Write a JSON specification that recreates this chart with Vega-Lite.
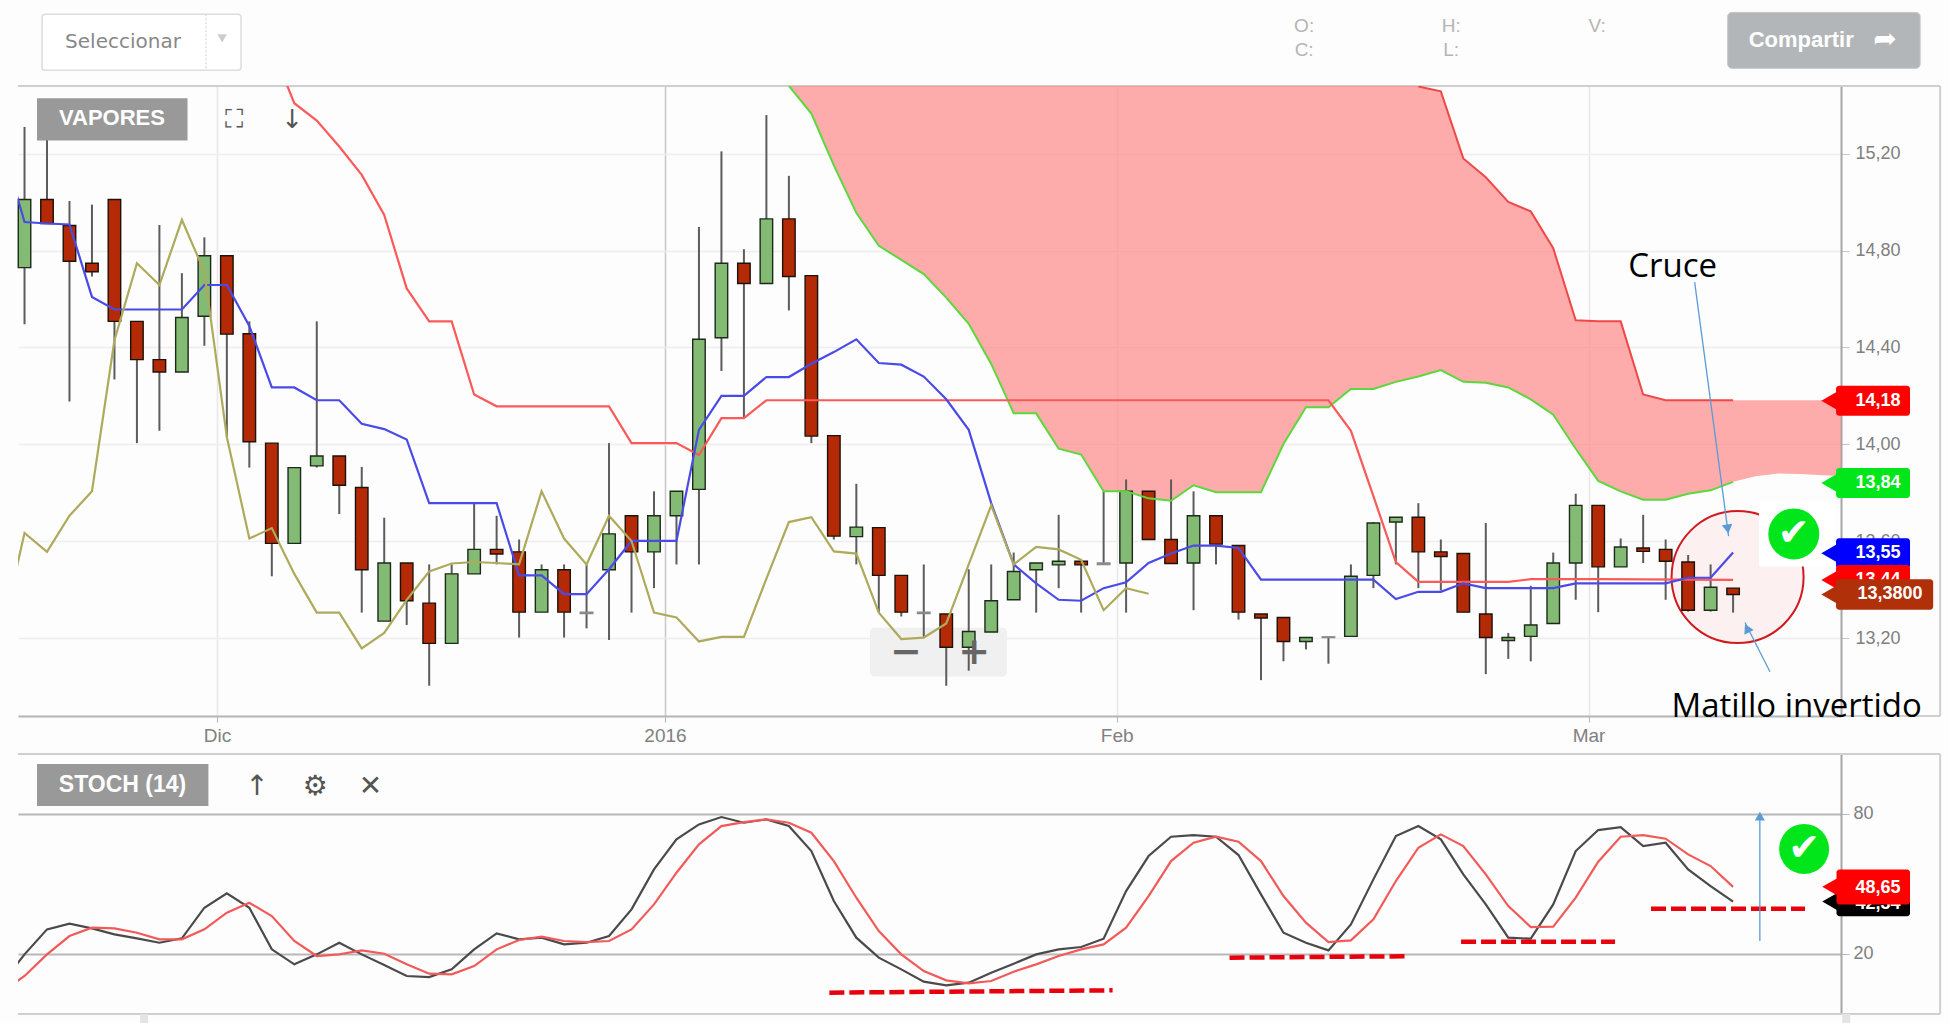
{
"$schema":"https://vega.github.io/schema/vega-lite/v6.json",
"padding":0,
"autosize":{"type":"pad"},
"background":"#fdfdfd",
"bounds":"flush",
"spacing":38,
"config":{"view":{"stroke":null},"font":"Liberation Sans"},
"datasets":{
"candles":[
{"i":0,"open":14.730,"high":15.311,"low":14.496,"close":15.011,"dir":"up"},
{"i":1,"open":15.011,"high":15.346,"low":14.912,"close":14.912,"dir":"down"},
{"i":2,"open":14.904,"high":15.005,"low":14.177,"close":14.756,"dir":"down"},
{"i":3,"open":14.748,"high":14.990,"low":14.693,"close":14.713,"dir":"down"},
{"i":4,"open":15.011,"high":15.011,"low":14.268,"close":14.508,"dir":"down"},
{"i":5,"open":14.508,"high":14.508,"low":14.005,"close":14.350,"dir":"down"},
{"i":6,"open":14.350,"high":14.906,"low":14.056,"close":14.299,"dir":"down"},
{"i":7,"open":14.299,"high":14.707,"low":14.299,"close":14.524,"dir":"up"},
{"i":8,"open":14.529,"high":14.855,"low":14.407,"close":14.779,"dir":"up"},
{"i":9,"open":14.779,"high":14.779,"low":14.030,"close":14.455,"dir":"down"},
{"i":10,"open":14.457,"high":14.508,"low":13.904,"close":14.011,"dir":"down"},
{"i":11,"open":14.005,"high":14.005,"low":13.455,"close":13.591,"dir":"down"},
{"i":12,"open":13.591,"high":13.904,"low":13.591,"close":13.904,"dir":"up"},
{"i":13,"open":13.911,"high":14.508,"low":13.904,"close":13.952,"dir":"up"},
{"i":14,"open":13.952,"high":13.952,"low":13.712,"close":13.831,"dir":"down"},
{"i":15,"open":13.822,"high":13.907,"low":13.305,"close":13.482,"dir":"down"},
{"i":16,"open":13.270,"high":13.697,"low":13.270,"close":13.510,"dir":"up"},
{"i":17,"open":13.510,"high":13.510,"low":13.254,"close":13.354,"dir":"down"},
{"i":18,"open":13.344,"high":13.504,"low":13.003,"close":13.178,"dir":"down"},
{"i":19,"open":13.178,"high":13.504,"low":13.178,"close":13.465,"dir":"up"},
{"i":20,"open":13.465,"high":13.757,"low":13.465,"close":13.566,"dir":"up"},
{"i":21,"open":13.566,"high":13.705,"low":13.504,"close":13.547,"dir":"down"},
{"i":22,"open":13.556,"high":13.607,"low":13.202,"close":13.307,"dir":"down"},
{"i":23,"open":13.307,"high":13.504,"low":13.307,"close":13.482,"dir":"up"},
{"i":24,"open":13.482,"high":13.504,"low":13.202,"close":13.307,"dir":"down"},
{"i":25,"open":13.307,"high":13.504,"low":13.240,"close":13.301,"dir":"flat"},
{"i":26,"open":13.482,"high":14.005,"low":13.192,"close":13.630,"dir":"up"},
{"i":27,"open":13.705,"high":13.705,"low":13.305,"close":13.556,"dir":"down"},
{"i":28,"open":13.556,"high":13.806,"low":13.406,"close":13.705,"dir":"up"},
{"i":29,"open":13.705,"high":13.806,"low":13.504,"close":13.806,"dir":"up"},
{"i":30,"open":13.814,"high":14.898,"low":13.504,"close":14.434,"dir":"up"},
{"i":31,"open":14.440,"high":15.210,"low":14.303,"close":14.748,"dir":"up"},
{"i":32,"open":14.748,"high":14.806,"low":14.108,"close":14.664,"dir":"down"},
{"i":33,"open":14.664,"high":15.360,"low":14.664,"close":14.931,"dir":"up"},
{"i":34,"open":14.931,"high":15.109,"low":14.553,"close":14.693,"dir":"down"},
{"i":35,"open":14.697,"high":14.697,"low":14.005,"close":14.034,"dir":"down"},
{"i":36,"open":14.036,"high":14.036,"low":13.607,"close":13.621,"dir":"down"},
{"i":37,"open":13.619,"high":13.837,"low":13.504,"close":13.658,"dir":"up"},
{"i":38,"open":13.656,"high":13.656,"low":13.305,"close":13.459,"dir":"down"},
{"i":39,"open":13.459,"high":13.459,"low":13.289,"close":13.307,"dir":"down"},
{"i":40,"open":13.307,"high":13.504,"low":13.202,"close":13.301,"dir":"flat"},
{"i":41,"open":13.299,"high":13.299,"low":13.003,"close":13.162,"dir":"down"},
{"i":42,"open":13.162,"high":13.484,"low":13.065,"close":13.227,"dir":"up"},
{"i":43,"open":13.225,"high":13.504,"low":13.225,"close":13.354,"dir":"up"},
{"i":44,"open":13.358,"high":13.553,"low":13.358,"close":13.475,"dir":"up"},
{"i":45,"open":13.482,"high":13.510,"low":13.305,"close":13.510,"dir":"up"},
{"i":46,"open":13.502,"high":13.709,"low":13.406,"close":13.517,"dir":"up"},
{"i":47,"open":13.517,"high":13.517,"low":13.305,"close":13.502,"dir":"down"},
{"i":48,"open":13.510,"high":13.806,"low":13.504,"close":13.504,"dir":"flat"},
{"i":49,"open":13.510,"high":13.855,"low":13.305,"close":13.806,"dir":"up"},
{"i":50,"open":13.806,"high":13.806,"low":13.607,"close":13.607,"dir":"down"},
{"i":51,"open":13.607,"high":13.855,"low":13.508,"close":13.508,"dir":"down"},
{"i":52,"open":13.510,"high":13.806,"low":13.315,"close":13.705,"dir":"up"},
{"i":53,"open":13.705,"high":13.705,"low":13.504,"close":13.588,"dir":"down"},
{"i":54,"open":13.582,"high":13.582,"low":13.276,"close":13.307,"dir":"down"},
{"i":55,"open":13.299,"high":13.299,"low":13.026,"close":13.283,"dir":"down"},
{"i":56,"open":13.285,"high":13.285,"low":13.104,"close":13.186,"dir":"down"},
{"i":57,"open":13.186,"high":13.202,"low":13.153,"close":13.202,"dir":"up"},
{"i":58,"open":13.205,"high":13.205,"low":13.094,"close":13.202,"dir":"flat"},
{"i":59,"open":13.207,"high":13.504,"low":13.207,"close":13.455,"dir":"up"},
{"i":60,"open":13.459,"high":13.679,"low":13.406,"close":13.675,"dir":"up"},
{"i":61,"open":13.679,"high":13.699,"low":13.504,"close":13.699,"dir":"up"},
{"i":62,"open":13.699,"high":13.757,"low":13.406,"close":13.556,"dir":"down"},
{"i":63,"open":13.556,"high":13.607,"low":13.396,"close":13.537,"dir":"down"},
{"i":64,"open":13.549,"high":13.549,"low":13.307,"close":13.307,"dir":"down"},
{"i":65,"open":13.299,"high":13.675,"low":13.051,"close":13.202,"dir":"down"},
{"i":66,"open":13.190,"high":13.221,"low":13.114,"close":13.202,"dir":"up"},
{"i":67,"open":13.207,"high":13.416,"low":13.104,"close":13.254,"dir":"up"},
{"i":68,"open":13.260,"high":13.553,"low":13.260,"close":13.510,"dir":"up"},
{"i":69,"open":13.510,"high":13.796,"low":13.358,"close":13.748,"dir":"up"},
{"i":70,"open":13.748,"high":13.748,"low":13.307,"close":13.494,"dir":"down"},
{"i":71,"open":13.494,"high":13.611,"low":13.494,"close":13.576,"dir":"up"},
{"i":72,"open":13.572,"high":13.709,"low":13.510,"close":13.558,"dir":"down"},
{"i":73,"open":13.566,"high":13.607,"low":13.358,"close":13.517,"dir":"down"},
{"i":74,"open":13.514,"high":13.543,"low":13.309,"close":13.315,"dir":"down"},
{"i":75,"open":13.315,"high":13.504,"low":13.309,"close":13.410,"dir":"up"},
{"i":76,"open":13.406,"high":13.406,"low":13.305,"close":13.380,"dir":"down"}
],
"tenkan":[{"i":-1,"p":15.241},{"i":0,"p":14.918},{"i":1,"p":14.912},{"i":2,"p":14.908},{"i":3,"p":14.609},{"i":4,"p":14.557},{"i":5,"p":14.557},{"i":6,"p":14.557},{"i":7,"p":14.557},{"i":8,"p":14.658},{"i":9,"p":14.658},{"i":10,"p":14.489},{"i":11,"p":14.235},{"i":12,"p":14.235},{"i":13,"p":14.182},{"i":14,"p":14.182},{"i":15,"p":14.085},{"i":16,"p":14.063},{"i":17,"p":14.020},{"i":18,"p":13.757},{"i":19,"p":13.757},{"i":20,"p":13.757},{"i":21,"p":13.757},{"i":22,"p":13.459},{"i":23,"p":13.459},{"i":24,"p":13.381},{"i":25,"p":13.381},{"i":26,"p":13.484},{"i":27,"p":13.601},{"i":28,"p":13.601},{"i":29,"p":13.601},{"i":30,"p":14.060},{"i":31,"p":14.200},{"i":32,"p":14.200},{"i":33,"p":14.278},{"i":34,"p":14.278},{"i":35,"p":14.333},{"i":36,"p":14.381},{"i":37,"p":14.434},{"i":38,"p":14.336},{"i":39,"p":14.329},{"i":40,"p":14.280},{"i":41,"p":14.186},{"i":42,"p":14.060},{"i":43,"p":13.757},{"i":44,"p":13.504},{"i":45,"p":13.426},{"i":46,"p":13.358},{"i":47,"p":13.354},{"i":48,"p":13.406},{"i":49,"p":13.430},{"i":50,"p":13.510},{"i":51,"p":13.549},{"i":52,"p":13.582},{"i":53,"p":13.582},{"i":54,"p":13.572},{"i":55,"p":13.441},{"i":56,"p":13.441},{"i":57,"p":13.441},{"i":58,"p":13.441},{"i":59,"p":13.441},{"i":60,"p":13.441},{"i":61,"p":13.361},{"i":62,"p":13.391},{"i":63,"p":13.391},{"i":64,"p":13.426},{"i":65,"p":13.406},{"i":66,"p":13.406},{"i":67,"p":13.406},{"i":68,"p":13.406},{"i":69,"p":13.426},{"i":70,"p":13.426},{"i":71,"p":13.426},{"i":72,"p":13.426},{"i":73,"p":13.426},{"i":74,"p":13.449},{"i":75,"p":13.449},{"i":76,"p":13.553}],
"kijun":[{"i":11,"p":15.639},{"i":12,"p":15.409},{"i":13,"p":15.337},{"i":14,"p":15.230},{"i":15,"p":15.113},{"i":16,"p":14.947},{"i":17,"p":14.644},{"i":18,"p":14.508},{"i":19,"p":14.508},{"i":20,"p":14.206},{"i":21,"p":14.157},{"i":22,"p":14.157},{"i":23,"p":14.157},{"i":24,"p":14.157},{"i":25,"p":14.157},{"i":26,"p":14.157},{"i":27,"p":14.005},{"i":28,"p":14.005},{"i":29,"p":14.005},{"i":30,"p":13.956},{"i":31,"p":14.108},{"i":32,"p":14.108},{"i":33,"p":14.182},{"i":40,"p":14.182},{"i":50,"p":14.182},{"i":58,"p":14.182},{"i":59,"p":14.056},{"i":60,"p":13.786},{"i":61,"p":13.514},{"i":62,"p":13.432},{"i":63,"p":13.432},{"i":64,"p":13.432},{"i":65,"p":13.432},{"i":66,"p":13.432},{"i":67,"p":13.443},{"i":70,"p":13.443},{"i":76,"p":13.440}],
"chikou":[{"i":-1,"p":13.223},{"i":0,"p":13.634},{"i":1,"p":13.556},{"i":2,"p":13.705},{"i":3,"p":13.806},{"i":4,"p":14.430},{"i":5,"p":14.748},{"i":6,"p":14.658},{"i":7,"p":14.927},{"i":8,"p":14.713},{"i":9,"p":14.030},{"i":10,"p":13.611},{"i":11,"p":13.654},{"i":12,"p":13.465},{"i":13,"p":13.305},{"i":14,"p":13.305},{"i":15,"p":13.157},{"i":16,"p":13.221},{"i":17,"p":13.358},{"i":18,"p":13.475},{"i":19,"p":13.508},{"i":20,"p":13.514},{"i":21,"p":13.510},{"i":22,"p":13.504},{"i":23,"p":13.806},{"i":24,"p":13.611},{"i":25,"p":13.504},{"i":26,"p":13.705},{"i":27,"p":13.601},{"i":28,"p":13.305},{"i":29,"p":13.285},{"i":30,"p":13.186},{"i":31,"p":13.205},{"i":32,"p":13.205},{"i":33,"p":13.445},{"i":34,"p":13.679},{"i":35,"p":13.699},{"i":36,"p":13.558},{"i":37,"p":13.549},{"i":38,"p":13.305},{"i":39,"p":13.196},{"i":40,"p":13.202},{"i":41,"p":13.260},{"i":42,"p":13.504},{"i":43,"p":13.748},{"i":44,"p":13.504},{"i":45,"p":13.576},{"i":46,"p":13.566},{"i":47,"p":13.523},{"i":48,"p":13.315},{"i":49,"p":13.406},{"i":50,"p":13.383}],
"kumo":[{"i":34,"lower":15.481,"upper":15.8},{"i":35,"lower":15.366,"upper":15.8},{"i":36,"lower":15.152,"upper":15.8},{"i":37,"lower":14.956,"upper":15.8},{"i":38,"lower":14.820,"upper":15.8},{"i":39,"lower":14.762,"upper":15.8},{"i":40,"lower":14.703,"upper":15.8},{"i":41,"lower":14.606,"upper":15.8},{"i":42,"lower":14.498,"upper":15.8},{"i":43,"lower":14.332,"upper":15.8},{"i":44,"lower":14.128,"upper":15.8},{"i":45,"lower":14.128,"upper":15.8},{"i":46,"lower":13.982,"upper":15.8},{"i":47,"lower":13.958,"upper":15.8},{"i":48,"lower":13.806,"upper":15.8},{"i":49,"lower":13.806,"upper":15.8},{"i":50,"lower":13.777,"upper":15.8},{"i":51,"lower":13.767,"upper":15.8},{"i":52,"lower":13.831,"upper":15.8},{"i":53,"lower":13.802,"upper":15.8},{"i":54,"lower":13.802,"upper":15.8},{"i":55,"lower":13.802,"upper":15.8},{"i":56,"lower":14.001,"upper":15.8},{"i":57,"lower":14.153,"upper":15.8},{"i":58,"lower":14.153,"upper":15.8},{"i":59,"lower":14.229,"upper":15.8},{"i":60,"lower":14.229,"upper":15.8},{"i":61,"lower":14.258,"upper":15.8},{"i":62,"lower":14.280,"upper":15.478},{"i":63,"lower":14.307,"upper":15.458},{"i":64,"lower":14.258,"upper":15.181},{"i":65,"lower":14.254,"upper":15.103},{"i":66,"lower":14.235,"upper":15.001},{"i":67,"lower":14.186,"upper":14.962},{"i":68,"lower":14.122,"upper":14.810},{"i":69,"lower":13.982,"upper":14.512},{"i":70,"lower":13.849,"upper":14.508},{"i":71,"lower":13.806,"upper":14.508},{"i":72,"lower":13.771,"upper":14.206},{"i":73,"lower":13.771,"upper":14.182},{"i":74,"lower":13.796,"upper":14.182},{"i":75,"lower":13.810,"upper":14.182},{"i":76,"lower":13.845,"upper":14.182},{"i":77,"lower":13.868,"upper":14.182},{"i":78,"lower":13.880,"upper":14.182},{"i":79,"lower":13.878,"upper":14.182},{"i":80,"lower":13.872,"upper":14.182},{"i":81,"lower":13.868,"upper":14.182}],
"stochK":[{"i":-1,"p":7.4},{"i":0,"p":19.71},{"i":1,"p":30.43},{"i":2,"p":32.86},{"i":3,"p":30.86},{"i":4,"p":28.29},{"i":5,"p":26.57},{"i":6,"p":24.71},{"i":7,"p":26.57},{"i":8,"p":39.71},{"i":9,"p":45.86},{"i":10,"p":39.71},{"i":11,"p":21.86},{"i":12,"p":15.43},{"i":13,"p":19.71},{"i":14,"p":24.71},{"i":15,"p":19.71},{"i":16,"p":15.14},{"i":17,"p":10.43},{"i":18,"p":10.0},{"i":19,"p":13.29},{"i":20,"p":21.86},{"i":21,"p":28.71},{"i":22,"p":26.14},{"i":23,"p":26.86},{"i":24,"p":24.0},{"i":25,"p":24.71},{"i":26,"p":27.57},{"i":27,"p":39.0},{"i":28,"p":56.14},{"i":29,"p":69.0},{"i":30,"p":75.43},{"i":31,"p":78.57},{"i":32,"p":76.14},{"i":33,"p":77.57},{"i":34,"p":74.71},{"i":35,"p":64.0},{"i":36,"p":42.57},{"i":37,"p":26.86},{"i":38,"p":18.29},{"i":39,"p":13.29},{"i":40,"p":8.0},{"i":41,"p":6.43},{"i":42,"p":7.57},{"i":43,"p":11.86},{"i":44,"p":15.71},{"i":45,"p":19.71},{"i":46,"p":21.86},{"i":47,"p":22.86},{"i":48,"p":26.43},{"i":49,"p":46.86},{"i":50,"p":61.86},{"i":51,"p":70.14},{"i":52,"p":70.86},{"i":53,"p":70.14},{"i":54,"p":62.29},{"i":55,"p":45.43},{"i":56,"p":29.0},{"i":57,"p":24.71},{"i":58,"p":21.43},{"i":59,"p":32.57},{"i":60,"p":51.86},{"i":61,"p":70.43},{"i":62,"p":74.71},{"i":63,"p":69.0},{"i":64,"p":54.0},{"i":65,"p":41.14},{"i":66,"p":26.86},{"i":67,"p":26.43},{"i":68,"p":41.14},{"i":69,"p":64.0},{"i":70,"p":73.0},{"i":71,"p":74.29},{"i":72,"p":66.14},{"i":73,"p":67.57},{"i":74,"p":56.14},{"i":75,"p":49.0},{"i":76,"p":42.34}],
"stochD":[{"i":-1,"p":3.57},{"i":0,"p":10.43},{"i":1,"p":19.71},{"i":2,"p":27.57},{"i":3,"p":31.14},{"i":4,"p":30.86},{"i":5,"p":29.0},{"i":6,"p":26.14},{"i":7,"p":26.14},{"i":8,"p":30.43},{"i":9,"p":37.57},{"i":10,"p":41.86},{"i":11,"p":36.14},{"i":12,"p":25.43},{"i":13,"p":19.0},{"i":14,"p":19.71},{"i":15,"p":21.43},{"i":16,"p":20.0},{"i":17,"p":15.43},{"i":18,"p":11.43},{"i":19,"p":11.14},{"i":20,"p":14.71},{"i":21,"p":21.86},{"i":22,"p":25.86},{"i":23,"p":27.29},{"i":24,"p":25.43},{"i":25,"p":25.0},{"i":26,"p":25.43},{"i":27,"p":30.43},{"i":28,"p":41.14},{"i":29,"p":54.71},{"i":30,"p":66.86},{"i":31,"p":74.71},{"i":32,"p":76.43},{"i":33,"p":77.57},{"i":34,"p":76.14},{"i":35,"p":71.86},{"i":36,"p":59.71},{"i":37,"p":44.0},{"i":38,"p":29.71},{"i":39,"p":19.71},{"i":40,"p":12.57},{"i":41,"p":8.57},{"i":42,"p":7.29},{"i":43,"p":8.29},{"i":44,"p":12.29},{"i":45,"p":15.43},{"i":46,"p":19.0},{"i":47,"p":21.86},{"i":48,"p":24.0},{"i":49,"p":31.14},{"i":50,"p":44.71},{"i":51,"p":59.71},{"i":52,"p":67.57},{"i":53,"p":70.14},{"i":54,"p":68.0},{"i":55,"p":59.71},{"i":56,"p":44.71},{"i":57,"p":33.29},{"i":58,"p":25.0},{"i":59,"p":25.71},{"i":60,"p":34.71},{"i":61,"p":51.14},{"i":62,"p":65.43},{"i":63,"p":71.14},{"i":64,"p":66.14},{"i":65,"p":54.0},{"i":66,"p":40.43},{"i":67,"p":31.43},{"i":68,"p":31.57},{"i":69,"p":44.0},{"i":70,"p":59.43},{"i":71,"p":70.14},{"i":72,"p":70.86},{"i":73,"p":69.29},{"i":74,"p":62.57},{"i":75,"p":57.57},{"i":76,"p":48.65}]
},
"vconcat":[
{
"width":1823,"height":630,
"encoding":{
"x":{"field":"i","type":"quantitative","title":null,"scale":{"domain":[-0.29,80.8],"nice":false,"zero":false,"padding":0},
 "axis":{"values":[8.56,28.49,48.58,69.57],"labelExpr":"datum.value==8.56?'Dic':datum.value==28.49?'2016':datum.value==48.58?'Feb':'Mar'","grid":true,"gridColor":{"condition":{"test":"datum.value==28.49","value":"#c8c8c8"},"value":"#e8e8e8"},"gridWidth":1.5,"domainColor":"#b5b5b5","domainWidth":2,"tickColor":"#b5b5b5","tickSize":6,"labelColor":"#808080","labelFontSize":19,"labelPadding":4,"labelFont":"Liberation Sans"}},
"y":{"field":"p","type":"quantitative","title":null,"scale":{"domain":[12.878,15.48],"nice":false,"zero":false},
 "axis":{"orient":"right","values":[13.2,13.6,14,14.4,14.8,15.2],"labelExpr":"replace(format(datum.value,'.2f'),'.',',')","grid":true,"gridColor":"#eeeeee","gridWidth":1.5,"domainColor":"#a5a5a5","domainWidth":2,"tickColor":"#c5c5c5","tickSize":8,"labelColor":"#808080","labelFontSize":18,"labelPadding":6,"labelFont":"Liberation Sans"}}
},
"layer":[
{"data":{"values":[{"i":-1.09,"i2":85.61,"p":15.834,"p2":11.607}]},"mark":{"type":"rect","fill":"#fdfdfd","fillOpacity":0},"encoding":{"x2":{"field":"i2"},"y2":{"field":"p2"}}},
{"data":{"values":[{"i":-0.29,"i2":85.21,"p":15.48,"p2":15.48},{"i":80.8,"i2":85.21,"p":12.878,"p2":12.878},{"i":85.21,"i2":85.21,"p":15.48,"p2":12.878}]},"mark":{"type":"rule","color":"#cfcfcf","strokeWidth":2},"encoding":{"x2":{"field":"i2"},"y2":{"field":"p2"}}},
{"data":{"name":"kumo"},"mark":{"type":"area","color":"#ff8080","opacity":0.65,"clip":true},"encoding":{"y":{"field":"lower","type":"quantitative","title":null,"scale":{"domain":[12.878,15.48],"nice":false,"zero":false}},"y2":{"field":"upper"}}},
{"data":{"values":[{"i":76.2,"p":13.452}]},"mark":{"type":"point","shape":"circle","filled":true,"fill":"#fcf0f0","stroke":"#d0181f","strokeWidth":2,"size":17424,"opacity":1}},
{"data":{"values":[{"i":77.15,"i2":80.5,"p":13.768,"p2":13.495}]},"mark":{"type":"rect","fill":"#ffffff"},"encoding":{"x2":{"field":"i2"},"y2":{"field":"p2"}}},
{"data":{"values":[{"i":37.61,"i2":43.7,"p":13.243,"p2":13.041}]},"mark":{"type":"rect","fill":"#f0f0f0","cornerRadius":4},"encoding":{"x2":{"field":"i2"},"y2":{"field":"p2"}}},
{"data":{"name":"candles"},"mark":{"type":"rule","color":"#5c5c5c","strokeWidth":2},"encoding":{"y":{"field":"low","type":"quantitative","title":null,"scale":{"domain":[12.878,15.48],"nice":false,"zero":false}},"y2":{"field":"high"}}},
{"data":{"name":"candles"},"mark":{"type":"bar","orient":"vertical","size":12.5,"strokeWidth":1.4},"encoding":{"y":{"field":"open","type":"quantitative","title":null,"scale":{"domain":[12.878,15.48],"nice":false,"zero":false}},"y2":{"field":"close"},"fill":{"field":"dir","type":"nominal","legend":null,"scale":{"domain":["up","down","flat"],"range":["#83bb74","#b42a06","#777777"]}},"stroke":{"field":"dir","type":"nominal","legend":null,"scale":{"domain":["up","down","flat"],"range":["#1c2a1a","#1c1208","#8a8a8a"]}}}},
{"data":{"name":"kumo"},"transform":[{"filter":"datum.i<=76"}],"mark":{"type":"line","color":"#5cd83c","strokeWidth":2,"clip":true},"encoding":{"y":{"field":"lower","type":"quantitative","title":null,"scale":{"domain":[12.878,15.48],"nice":false,"zero":false}}}},
{"data":{"name":"kumo"},"transform":[{"filter":"datum.i>=62&&datum.i<=76"}],"mark":{"type":"line","color":"#f04848","strokeWidth":2,"clip":true},"encoding":{"y":{"field":"upper","type":"quantitative","title":null,"scale":{"domain":[12.878,15.48],"nice":false,"zero":false}}}},
{"data":{"name":"kijun"},"mark":{"type":"line","color":"#fa5a5a","strokeWidth":2.2,"clip":true}},
{"data":{"name":"tenkan"},"mark":{"type":"line","color":"#4a4ae8","strokeWidth":2.2,"clip":true}},
{"data":{"name":"chikou"},"mark":{"type":"line","color":"#aeaa5c","strokeWidth":2.2,"clip":true}},
{"data":{"values":[{"g":"a","i":74.29,"p":14.67},{"g":"a","i":75.8,"p":13.621},{"g":"b","i":76.53,"p":13.264},{"g":"b","i":77.64,"p":13.061}]},"mark":{"type":"line","color":"#5b9bd5","strokeWidth":1.3},"encoding":{"detail":{"field":"g"}}},
{"data":{"values":[{"i":75.76,"p":13.65}]},"mark":{"type":"point","shape":"triangle-up","filled":true,"color":"#5b9bd5","size":110,"angle":172,"opacity":1}},
{"data":{"values":[{"i":76.62,"p":13.24}]},"mark":{"type":"point","shape":"triangle-up","filled":true,"color":"#5b9bd5","size":110,"angle":-27,"opacity":1}},
{"data":{"values":[{"i":78.7,"p":13.63}]},"mark":{"type":"point","shape":"circle","filled":true,"color":"#00e61a","size":2600,"opacity":1}},
{"data":{"values":[{"i":78.7,"p":13.63,"label":"✔"}]},"mark":{"type":"text","font":"DejaVu Sans","fontSize":38,"color":"#ffffff"},"encoding":{"text":{"field":"label"}}},
{"data":{"values":[{"i":39.21,"p":13.14,"label":"−"},{"i":42.24,"p":13.14,"label":"+"}]},"mark":{"type":"text","font":"DejaVu Sans","fontSize":38,"fontWeight":"bold","color":"#666666"},"encoding":{"text":{"field":"label"}}},
{"data":{"values":[{"i":73.31,"p":14.732,"label":"Cruce"},{"i":78.83,"p":12.917,"label":"Matillo invertido"}]},"mark":{"type":"text","font":"Open Sans","fontSize":33,"color":"#000000"},"encoding":{"text":{"field":"label"}}},
{"data":{"values":[{"i":0.78,"i2":9.63,"p":15.776,"p2":15.545}]},"mark":{"type":"rect","fill":"#ffffff","stroke":"#dddddd","strokeWidth":1.5,"cornerRadius":3},"encoding":{"x2":{"field":"i2"},"y2":{"field":"p2"}}},
{"data":{"values":[{"i":8.07,"p":15.776,"p2":15.545}]},"mark":{"type":"rule","color":"#cccccc","strokeDash":[2,2]},"encoding":{"y2":{"field":"p2"}}},
{"data":{"values":[{"i":8.79,"p":15.677}]},"mark":{"type":"point","shape":"triangle-down","filled":true,"color":"#cccccc","size":90,"opacity":1}},
{"data":{"values":[{"i":4.38,"p":15.662,"label":"Seleccionar"}]},"mark":{"type":"text","font":"DejaVu Sans","fontSize":20,"color":"#888888"},"encoding":{"text":{"field":"label"}}},
{"data":{"values":[{"i":56.92,"p":15.727,"label":"O:"},{"i":56.92,"p":15.627,"label":"C:"},{"i":63.46,"p":15.727,"label":"H:"},{"i":63.46,"p":15.627,"label":"L:"},{"i":69.95,"p":15.727,"label":"V:"}]},"mark":{"type":"text","font":"Liberation Sans","fontSize":19,"color":"#b5b5b5"},"encoding":{"text":{"field":"label"}}},
{"data":{"values":[{"i":75.76,"i2":84.32,"p":15.784,"p2":15.553}]},"mark":{"type":"rect","fill":"#b3b6b9","stroke":"#c4c6c8","cornerRadius":4},"encoding":{"x2":{"field":"i2"},"y2":{"field":"p2"}}},
{"data":{"values":[{"i":79.03,"p":15.669,"label":"Compartir"}]},"mark":{"type":"text","font":"Liberation Sans","fontSize":22,"fontWeight":"bold","color":"#ffffff"},"encoding":{"text":{"field":"label"}}},
{"data":{"values":[{"i":82.76,"p":15.669,"label":"➦"}]},"mark":{"type":"text","font":"DejaVu Sans","fontSize":28,"color":"#ffffff"},"encoding":{"text":{"field":"label"}}},
{"data":{"values":[{"i":0.556,"i2":7.25,"p":15.429,"p2":15.255}]},"mark":{"type":"rect","fill":"#999999"},"encoding":{"x2":{"field":"i2"},"y2":{"field":"p2"}}},
{"data":{"values":[{"i":3.89,"p":15.346,"label":"VAPORES"}]},"mark":{"type":"text","font":"Liberation Sans","fontSize":22,"fontWeight":"bold","color":"#ffffff"},"encoding":{"text":{"field":"label"}}},
{"data":{"values":[{"i":9.32,"p":15.338,"label":"⛶"},{"i":11.9,"p":15.338,"label":"↓"}]},"mark":{"type":"text","font":"DejaVu Sans","fontSize":26,"color":"#555555"},"encoding":{"text":{"field":"label"}}},
{"data":{"values":[{"tag":"14,18","p":14.18,"i":80.32},{"tag":"13,84","p":13.84,"i":80.32},{"tag":"13,55","p":13.55,"i":80.32},{"tag":"13,44","p":13.44,"i":80.32}]},"mark":{"type":"point","shape":"triangle-left","filled":true,"size":420,"opacity":1},"encoding":{"color":{"field":"tag","type":"nominal","legend":null,"scale":{"domain":["14,18","13,84","13,55","13,44","13,3800"],"range":["#ff0000","#00e61a","#0000ff","#ff0000","#b0300a"]}}}},
{"data":{"values":[{"tag":"14,18","i":80.58,"i2":83.87,"p":14.242,"p2":14.118},{"tag":"13,84","i":80.58,"i2":83.87,"p":13.902,"p2":13.778},{"tag":"13,55","i":80.58,"i2":83.87,"p":13.612,"p2":13.488},{"tag":"13,44","i":80.58,"i2":83.87,"p":13.502,"p2":13.378}]},"mark":{"type":"rect","cornerRadius":3},"encoding":{"x2":{"field":"i2"},"y2":{"field":"p2"},"color":{"field":"tag","type":"nominal","legend":null,"scale":{"domain":["14,18","13,84","13,55","13,44","13,3800"],"range":["#ff0000","#00e61a","#0000ff","#ff0000","#b0300a"]}}}},
{"data":{"values":[{"i":82.45,"p":13.44,"label":"13,44"}]},"mark":{"type":"text","font":"Liberation Sans","fontSize":18,"fontWeight":"bold","color":"#ffffff"},"encoding":{"text":{"field":"label"}}},
{"data":{"values":[{"i":80.32,"p":13.38,"tag":"13,3800"}]},"mark":{"type":"point","shape":"triangle-left","filled":true,"size":420,"opacity":1},"encoding":{"color":{"field":"tag","type":"nominal","legend":null,"scale":{"domain":["14,18","13,84","13,55","13,44","13,3800"],"range":["#ff0000","#00e61a","#0000ff","#ff0000","#b0300a"]}}}},
{"data":{"values":[{"tag":"13,3800","i":80.58,"i2":84.9,"p":13.443,"p2":13.317}]},"mark":{"type":"rect","cornerRadius":3},"encoding":{"x2":{"field":"i2"},"y2":{"field":"p2"},"color":{"field":"tag","type":"nominal","legend":null,"scale":{"domain":["14,18","13,84","13,55","13,44","13,3800"],"range":["#ff0000","#00e61a","#0000ff","#ff0000","#b0300a"]}}}},
{"data":{"values":[{"i":82.45,"p":14.18,"label":"14,18"},{"i":82.45,"p":13.84,"label":"13,84"},{"i":82.45,"p":13.55,"label":"13,55"},{"i":82.98,"p":13.38,"label":"13,3800"}]},"mark":{"type":"text","font":"Liberation Sans","fontSize":18,"fontWeight":"bold","color":"#ffffff"},"encoding":{"text":{"field":"label"}}}
]
},
{
"width":1823,"height":260,
"encoding":{
"x":{"field":"i","type":"quantitative","title":null,"scale":{"domain":[-0.29,80.8],"nice":false,"zero":false},"axis":null},
"y":{"field":"p","type":"quantitative","title":null,"scale":{"domain":[-5.85,105.6],"nice":false,"zero":false},
 "axis":{"orient":"right","values":[20,80],"grid":true,"gridColor":"#b8b8b8","gridWidth":2,"domainColor":"#a5a5a5","domainWidth":2,"tickColor":"#b8b8b8","tickSize":8,"labelColor":"#808080","labelFontSize":18,"labelPadding":4,"labelFont":"Liberation Sans"}}
},
"layer":[
{"data":{"values":[{"i":-0.29,"i2":85.21,"p":105.6,"p2":105.6},{"i":-0.29,"i2":85.21,"p":-5.85,"p2":-5.85},{"i":85.21,"i2":85.21,"p":105.6,"p2":-5.85}]},"mark":{"type":"rule","color":"#cfcfcf","strokeWidth":2},"encoding":{"x2":{"field":"i2"},"y2":{"field":"p2"}}},
{"data":{"values":[{"i":5.32,"p":-5.85,"p2":-10.1},{"i":81.03,"p":-5.85,"p2":-10.1}]},"mark":{"type":"rule","color":"#e4e4e4","strokeWidth":8},"encoding":{"y2":{"field":"p2"}}},
{"data":{"name":"stochK"},"mark":{"type":"line","color":"#4a4a4a","strokeWidth":2.2,"clip":true}},
{"data":{"name":"stochD"},"mark":{"type":"line","color":"#f25a5a","strokeWidth":2.2,"clip":true}},
{"data":{"values":[{"g":"a","i":35.8,"p":3.3},{"g":"a","i":48.4,"p":4.3},{"g":"b","i":53.6,"p":18.3},{"g":"b","i":61.4,"p":18.9},{"g":"c","i":63.9,"p":25.1},{"g":"c","i":70.75,"p":25.1},{"g":"d","i":72.35,"p":39.3},{"g":"d","i":79.2,"p":39.3}]},"mark":{"type":"line","color":"#e8000d","strokeWidth":4.5,"strokeDash":[15,5]},"encoding":{"detail":{"field":"g"}}},
{"data":{"values":[{"i":77.19,"p":25.4,"p2":80}]},"mark":{"type":"rule","color":"#5b9bd5","strokeWidth":1.3},"encoding":{"y2":{"field":"p2"}}},
{"data":{"values":[{"i":77.19,"p":79}]},"mark":{"type":"point","shape":"triangle-up","filled":true,"color":"#5b9bd5","size":100,"opacity":1}},
{"data":{"values":[{"i":79.16,"p":64.9}]},"mark":{"type":"point","shape":"circle","filled":true,"color":"#00e61a","size":2500,"opacity":1}},
{"data":{"values":[{"i":79.16,"p":64.9,"label":"✔"}]},"mark":{"type":"text","font":"DejaVu Sans","fontSize":38,"color":"#ffffff"},"encoding":{"text":{"field":"label"}}},
{"data":{"values":[{"i":0.556,"i2":8.18,"p":101.3,"p2":83.3}]},"mark":{"type":"rect","fill":"#999999"},"encoding":{"x2":{"field":"i2"},"y2":{"field":"p2"}}},
{"data":{"values":[{"i":4.36,"p":92.3,"label":"STOCH (14)"}]},"mark":{"type":"text","font":"Liberation Sans","fontSize":23,"fontWeight":"bold","color":"#ffffff"},"encoding":{"text":{"field":"label"}}},
{"data":{"values":[{"i":10.34,"p":91.5,"label":"↑"},{"i":12.92,"p":91.5,"label":"⚙"},{"i":15.39,"p":91.5,"label":"✕"}]},"mark":{"type":"text","font":"DejaVu Sans","fontSize":28,"color":"#555555"},"encoding":{"text":{"field":"label"}}},
{"data":{"values":[{"i":80.3,"p":42.34}]},"mark":{"type":"point","shape":"triangle-left","filled":true,"size":300,"opacity":1,"color":"#000000"}},
{"data":{"values":[{"i":80.6,"i2":83.87,"p":44,"p2":36.1}]},"mark":{"type":"rect","fill":"#000000","cornerRadius":3},"encoding":{"x2":{"field":"i2"},"y2":{"field":"p2"}}},
{"data":{"values":[{"i":82.45,"p":41.14,"label":"42,34"}]},"mark":{"type":"text","font":"Liberation Sans","fontSize":18,"fontWeight":"bold","color":"#ffffff"},"encoding":{"text":{"field":"label"}}},
{"data":{"values":[{"i":80.3,"p":48.65}]},"mark":{"type":"point","shape":"triangle-left","filled":true,"size":300,"opacity":1,"color":"#ff0000"}},
{"data":{"values":[{"i":80.6,"i2":83.87,"p":56.14,"p2":41.14}]},"mark":{"type":"rect","fill":"#ff0000","cornerRadius":3},"encoding":{"x2":{"field":"i2"},"y2":{"field":"p2"}}},
{"data":{"values":[{"i":82.45,"p":48.3,"label":"48,65"}]},"mark":{"type":"text","font":"Liberation Sans","fontSize":18,"fontWeight":"bold","color":"#ffffff"},"encoding":{"text":{"field":"label"}}}
]
}
]
}
